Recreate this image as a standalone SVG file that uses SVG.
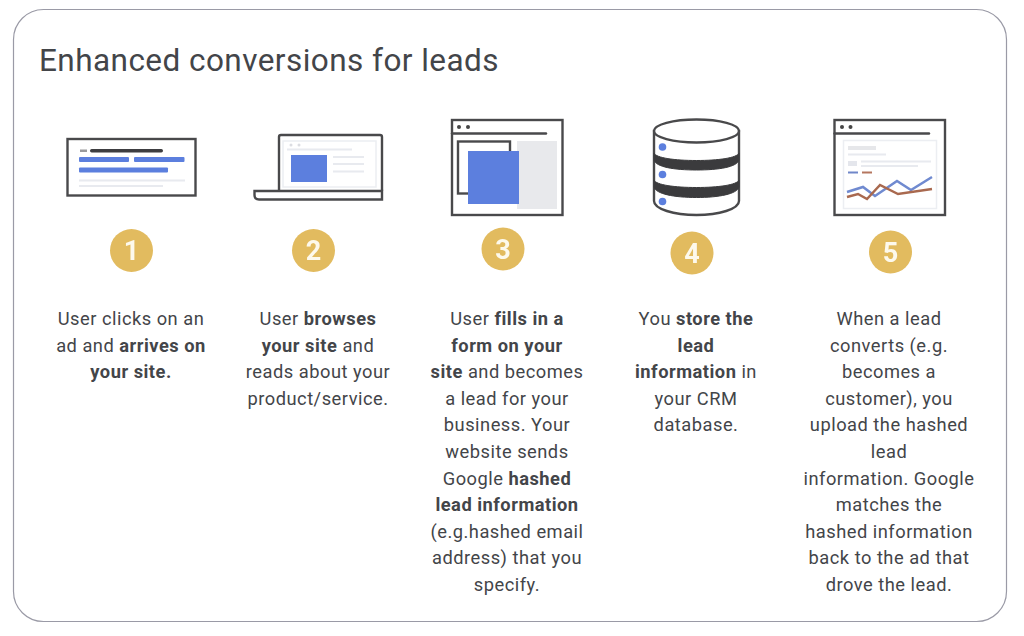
<svg xmlns="http://www.w3.org/2000/svg" width="1024" height="636" viewBox="0 0 1024 636">
<style>
text{font-family:"Roboto","Liberation Sans",sans-serif;fill:#434549}
.t{font-size:18.3px;text-anchor:middle;letter-spacing:.5px}
.b{font-weight:700}
.n{font-size:27px;font-weight:700;text-anchor:middle;fill:#fdf9ec}
.o{fill:none;stroke:#4a4a4c;stroke-width:2.4}
.w{fill:#fff;stroke:#4a4a4c;stroke-width:2.4}
.k{fill:none;stroke:#4a4a4c;stroke-width:2.4;stroke-linecap:round}
.l{stroke:#e8eaef;stroke-width:2;fill:none}
.bl{fill:#5b7fde}
.g{fill:#e2bb5f}
.i{filter:url(#soft)}
</style>
<defs><filter id="soft" x="-5%" y="-5%" width="110%" height="110%"><feGaussianBlur stdDeviation="0.45"/></filter></defs>
<rect width="1024" height="636" fill="#fff"/>
<rect x="13.500" y="9.500" width="993" height="612" rx="30" fill="#fff" stroke="#9a9aa6" stroke-width="1.200"/>
<text x="39" y="71" font-size="31.500" letter-spacing=".45">Enhanced conversions for leads</text>

<g id="step1">
<g class="i">
<rect class="w" x="67.500" y="139" width="128" height="56.500"/>
<rect x="90" y="149" width="73" height="3.500" rx="1.700" fill="#3d3d3f"/>
<rect x="80" y="149.500" width="7" height="2.500" fill="#9a9a9c"/>
<rect class="bl" x="79" y="157" width="50" height="5" rx="1"/>
<rect class="bl" x="134" y="157" width="50.500" height="5" rx="1"/>
<rect class="bl" x="79" y="167.500" width="89" height="5" rx="1"/>
<path class="l" d="M79 180.500H185M79 186H163"/>
<circle class="g" cx="131.500" cy="250.500" r="21.500"/>
<text class="n" x="131.500" y="260">1</text>
</g>
<text class="t" x="131" y="325">User clicks on an</text>
<text class="t" x="131" y="352">ad and <tspan class="b">arrives on</tspan></text>
<text class="t" x="131" y="378"><tspan class="b">your site.</tspan></text>
</g>

<g id="step2">
<g class="i">
<rect class="w" x="279" y="135" width="103" height="57" rx="2"/>
<rect x="283" y="141" width="93" height="46" fill="none" stroke="#eceef2" stroke-width="1.500"/>
<circle cx="291" cy="145" r="1.500" fill="#dcdde2"/>
<circle cx="299" cy="145" r="1.500" fill="#dcdde2"/>
<path class="l" d="M287 149.500H352M333 157H364M333 164H364M333 171.500H364" stroke-width="1.500"/>
<rect class="bl" x="291" y="155" width="36" height="27"/>
<path class="w" d="M254.500 191H382V199.500H259Q254.500 199.500 254.500 195Z"/>
<circle class="g" cx="313.500" cy="250.500" r="21.500"/>
<text class="n" x="313.500" y="260">2</text>
</g>
<text class="t" x="318" y="325">User <tspan class="b">browses</tspan></text>
<text class="t" x="318" y="352"><tspan class="b">your site</tspan> and</text>
<text class="t" x="318" y="378">reads about your</text>
<text class="t" x="318" y="405">product/service.</text>
</g>

<g id="step3">
<g class="i">
<rect class="w" x="452" y="120" width="110.500" height="95"/>
<circle cx="459" cy="127" r="2" fill="#444"/>
<circle cx="468" cy="127" r="2" fill="#444"/>
<path class="k" d="M452 133.500H546"/>
<rect x="517" y="141" width="40" height="68" fill="#e8e9ec"/>
<rect class="o" x="458" y="141.500" width="52" height="52"/>
<rect class="bl" x="468" y="151" width="51" height="53"/>
<circle class="g" cx="503" cy="249" r="21.500"/>
<text class="n" x="503" y="258.500">3</text>
</g>
<text class="t" x="507" y="325">User <tspan class="b">fills in a</tspan></text>
<text class="t" x="507" y="352"><tspan class="b">form on your</tspan></text>
<text class="t" x="507" y="378"><tspan class="b">site</tspan> and becomes</text>
<text class="t" x="507" y="405">a lead for your</text>
<text class="t" x="507" y="431">business. Your</text>
<text class="t" x="507" y="458">website sends</text>
<text class="t" x="507" y="485">Google <tspan class="b">hashed</tspan></text>
<text class="t" x="507" y="511"><tspan class="b">lead information</tspan></text>
<text class="t" x="507" y="538">(e.g.hashed email</text>
<text class="t" x="507" y="564">address) that you</text>
<text class="t" x="507" y="591">specify.</text>
</g>

<g id="step4">
<g class="i">
<path class="w" d="M654 131V201C654 209 674 215 696.500 215S739 209 739 201V131Z"/>
<path d="M654 153V160C656 167 674 170 696.500 170S737 167 739 160V153C737 158 718 160.500 696.500 160.500S656 158 654 153Z" fill="#3a3a3c" stroke="#3a3a3c" stroke-width="1"/>
<path d="M654 180V187C656 194 674 197.500 696.500 197.500S737 194 739 187V180C737 185 718 187.500 696.500 187.500S656 185 654 180Z" fill="#3a3a3c" stroke="#3a3a3c" stroke-width="1"/>
<ellipse class="w" cx="696.500" cy="131" rx="42.500" ry="11.500"/>
<circle class="bl" cx="662.500" cy="147" r="3.800"/>
<circle class="bl" cx="662.500" cy="174.500" r="3.800"/>
<circle class="bl" cx="662.500" cy="201.500" r="3.800"/>
<circle class="g" cx="692" cy="253" r="21.500"/>
<text class="n" x="692" y="262.500">4</text>
</g>
<text class="t" x="696" y="325">You <tspan class="b">store the</tspan></text>
<text class="t" x="696" y="352"><tspan class="b">lead</tspan></text>
<text class="t" x="696" y="378"><tspan class="b">information</tspan> in</text>
<text class="t" x="696" y="405">your CRM</text>
<text class="t" x="696" y="431">database.</text>
</g>

<g id="step5">
<g class="i">
<rect class="w" x="834.500" y="120" width="110.500" height="95"/>
<circle cx="842" cy="127" r="2" fill="#444"/>
<circle cx="850.500" cy="127" r="2" fill="#444"/>
<path class="k" d="M834.500 133.500H929"/>
<rect x="843.500" y="140.500" width="93" height="68" fill="none" stroke="#eceef2" stroke-width="1.500"/>
<rect x="848" y="146" width="28" height="4" fill="#e6e7ea"/>
<path class="l" d="M848 154.500H886M861 161.500H931M861 166H918" stroke-width="1.300"/>
<rect x="848" y="161" width="9" height="5" fill="#e4e6ec"/>
<path d="M848 172.500H858" stroke="#6f87c9" stroke-width="2"/>
<path d="M862 172.500H872" stroke="#b5765e" stroke-width="2"/>
<path d="M847 192L863 187L875 196L897 181L911 190L932 177" fill="none" stroke="#6f8ad0" stroke-width="2.500"/>
<path d="M847 197L858 194L867 199L880 185L898 194L932 189" fill="none" stroke="#a9694f" stroke-width="2.500"/>
<circle class="g" cx="890.500" cy="252" r="21.500"/>
<text class="n" x="890.500" y="261.500">5</text>
</g>
<text class="t" x="889" y="325">When a lead</text>
<text class="t" x="889" y="352">converts (e.g.</text>
<text class="t" x="889" y="378">becomes a</text>
<text class="t" x="889" y="405">customer), you</text>
<text class="t" x="889" y="431">upload the hashed</text>
<text class="t" x="889" y="458">lead</text>
<text class="t" x="889" y="485">information. Google</text>
<text class="t" x="889" y="511">matches the</text>
<text class="t" x="889" y="538">hashed information</text>
<text class="t" x="889" y="564">back to the ad that</text>
<text class="t" x="889" y="591">drove the lead.</text>
</g>
</svg>
